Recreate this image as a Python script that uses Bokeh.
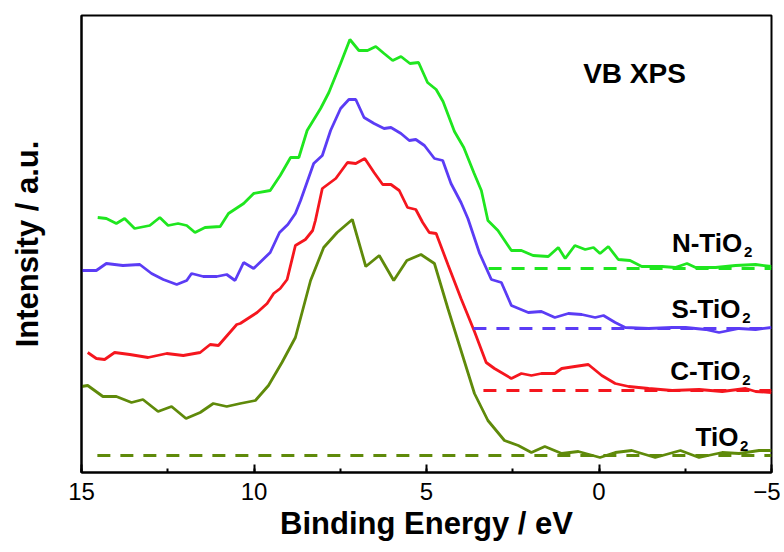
from bokeh.plotting import figure
from bokeh.models import Range1d, SingleIntervalTicker, FixedTicker, Label
from bokeh.embed import file_html
from bokeh.resources import INLINE

# ---- data (binding energy in eV, intensity in arbitrary units) ----
tio2_E = [15.0, 14.82, 14.38, 13.99, 13.55, 13.22, 12.78, 12.39, 11.97, 11.56, 11.18, 10.79,
          10.40, 9.96, 9.58, 9.19, 8.80, 8.36, 7.98, 7.59, 7.15, 6.76, 6.37, 5.95, 5.57, 5.16,
          4.77, 4.38, 4.00, 3.61, 3.22, 2.74, 2.34, 1.96, 1.57, 1.08, 0.60, -0.03, -0.47, -0.95,
          -1.63, -2.36, -2.90, -3.57, -4.06, -4.64, -5.0]
tio2_I = [84, 85, 74, 74, 68, 71, 59, 64, 52, 58, 67, 64,
          67, 70, 85, 108, 133, 190, 223, 238, 251, 204, 215, 190, 210, 216,
          207, 162, 120, 77, 50, 30, 25, 18, 24, 17, 19, 13, 18, 20,
          13, 20, 13, 18, 17, 20, 20]

c_E = [14.82, 14.57, 14.33, 14.04, 13.60, 13.07, 12.53, 12.05, 11.56, 11.27, 11.03, 10.50,
       10.40, 9.91, 9.62, 9.43, 9.24, 9.04, 8.80, 8.51, 8.30, 8.22, 8.02, 7.63, 7.29, 7.05,
       6.79, 6.52, 6.27, 6.03, 5.79, 5.55, 5.31, 5.11, 4.92, 4.72, 4.38, 4.00, 3.61, 3.27,
       3.03, 2.54, 2.25, 1.96, 1.67, 1.28, 1.08, 0.70, 0.31, -0.08, -0.47, -0.86, -1.44,
       -2.12, -2.90, -3.57, -4.25, -4.54, -5.0]
c_I = [118, 112, 111, 118, 116, 113, 117, 115, 118, 126, 125, 146,
       147, 158, 167, 177, 182, 191, 225, 231, 240, 250, 282, 292, 308, 307,
       312, 298, 286, 286, 280, 263, 261, 248, 238, 237, 206, 172, 139, 108,
       102, 92, 97, 95, 97, 97, 102, 104, 106, 95, 87, 84, 82,
       80, 81, 79, 82, 79, 78]

s_E = [15.0, 14.82, 14.57, 14.28, 13.80, 13.31, 12.97, 12.63, 12.24, 11.95, 11.81, 11.47,
       11.08, 10.79, 10.55, 10.30, 10.01, 9.53, 9.26, 9.02, 8.80, 8.65, 8.27, 8.02, 7.78,
       7.49, 7.25, 7.05, 6.81, 6.52, 6.23, 6.03, 5.74, 5.50, 5.31, 5.06, 4.77, 4.53, 4.29,
       4.00, 3.80, 3.46, 3.12, 2.83, 2.54, 2.05, 1.67, 1.28, 0.89, 0.50, 0.11, -0.13, -0.47,
       -0.76, -1.44, -2.12, -2.51, -3.09, -3.48, -4.06, -4.54, -5.0]
s_I = [200, 200, 200, 207, 205, 206, 197, 191, 186, 190, 197, 194,
       194, 196, 190, 208, 202, 218, 238, 246, 257, 270, 307, 315, 340,
       362, 371, 371, 353, 347, 342, 343, 337, 330, 331, 325, 312, 310, 287,
       268, 252, 217, 191, 188, 165, 158, 159, 153, 157, 156, 153, 155, 148,
       143, 142, 143, 143, 141, 138, 142, 141, 143]

n_E = [14.53, 14.28, 13.99, 13.75, 13.46, 13.02, 12.73, 12.49, 12.20, 11.95, 11.71, 11.42,
       10.98, 10.74, 10.30, 10.01, 9.53, 9.24, 8.94, 8.70, 8.46, 8.07, 7.83, 7.49, 7.22,
       6.96, 6.71, 6.47, 6.23, 5.98, 5.74, 5.48, 5.23, 4.97, 4.72, 4.52, 4.19, 3.92, 3.63,
       3.41, 3.22, 2.93, 2.54, 2.25, 1.91, 1.47, 1.18, 0.98, 0.70, 0.40, 0.16, -0.03, -0.27,
       -0.56, -0.90, -1.24, -1.83, -2.21, -2.55, -2.80, -3.38, -3.96, -4.54, -5.0]
n_I = [253, 252, 247, 252, 242, 245, 253, 245, 247, 245, 238, 243,
       244, 257, 267, 277, 280, 295, 313, 313, 340, 362, 378, 407, 431,
       420, 420, 424, 417, 410, 414, 407, 408, 388, 381, 369, 339, 323, 298,
       280, 250, 240, 220, 220, 215, 214, 223, 212, 225, 221, 223, 217, 224,
       211, 210, 204, 204, 203, 207, 203, 203, 205, 206, 204]

# dashed baselines: (start energy, level)
base_start = {"TiO2": 14.54, "C-TiO2": 3.35, "S-TiO2": 3.64, "N-TiO2": 3.20}
base_level = {"TiO2": 15, "C-TiO2": 80, "S-TiO2": 142, "N-TiO2": 202}
x_end = -5.0

colors = {"TiO2": "#5f8a0a", "C-TiO2": "#f5161e", "S-TiO2": "#5b3cf5", "N-TiO2": "#1fe61f"}
series = [("TiO2", tio2_E, tio2_I), ("C-TiO2", c_E, c_I),
          ("S-TiO2", s_E, s_I), ("N-TiO2", n_E, n_I)]

FONT = "Liberation Sans"

p = figure(width=780, height=548, x_range=Range1d(15, -5), y_range=Range1d(-2, 455),
           output_backend="svg", toolbar_location=None,
           min_border_left=81, min_border_right=9, min_border_top=15, min_border_bottom=76)
p.background_fill_color = "white"
p.border_fill_color = "white"
p.outline_line_color = "black"
p.outline_line_width = 2
p.xgrid.visible = False
p.ygrid.visible = False

for name, E, I in series:
    c = colors[name]
    p.line([base_start[name], x_end], [base_level[name], base_level[name]],
           line_color=c, line_width=2.8, line_dash="13 10")
    p.line(E, I, line_color=c, line_width=2.8)

# x axis
xa = p.xaxis[0]
xa.ticker = SingleIntervalTicker(interval=5, num_minor_ticks=2)
xa.axis_line_width = 2
xa.major_tick_line_width = 2
xa.minor_tick_line_width = 2
xa.major_tick_in = 8
xa.major_tick_out = 0
xa.minor_tick_in = 4
xa.minor_tick_out = 0
xa.major_label_standoff = 10
xa.major_label_text_font = FONT
xa.major_label_text_font_size = "24px"
xa.major_label_text_color = "black"
xa.axis_label = "Binding Energy / eV"
xa.axis_label_text_font = FONT
xa.axis_label_text_font_style = "bold"
xa.axis_label_text_font_size = "31px"
xa.axis_label_text_color = "black"
xa.axis_label_standoff = 3

# y axis
ya = p.yaxis[0]
ya.ticker = FixedTicker(ticks=[])
ya.axis_line_width = 2
ya.major_tick_in = 0
ya.major_tick_out = 0
ya.minor_tick_in = 0
ya.minor_tick_out = 0
ya.major_label_standoff = 0
ya.axis_label = "Intensity / a.u."
ya.axis_label_text_font = FONT
ya.axis_label_text_font_style = "bold"
ya.axis_label_text_font_size = "31px"
ya.axis_label_text_color = "black"
ya.axis_label_standoff = 37

# text annotations
p.add_layout(Label(x=-1.03, y=397, text="VB XPS", text_font=FONT, text_font_style="bold",
                   text_font_size="28px", text_align="center", text_baseline="alphabetic",
                   text_color="black"))

lab_names = ["N-TiO", "S-TiO", "C-TiO", "TiO"]
lab_x = [-4.15, -4.10, -4.10, -4.04]
lab_y = [228, 162, 100, 34]
for t, lx, ly in zip(lab_names, lab_x, lab_y):
    p.add_layout(Label(x=lx, y=ly, text=t, text_font=FONT, text_font_style="bold",
                       text_font_size="26px", text_align="right", text_baseline="alphabetic",
                       text_color="black"))
    p.add_layout(Label(x=lx - 0.05, y=ly - 9, text="2", text_font=FONT, text_font_style="bold",
                       text_font_size="15px", text_align="left", text_baseline="alphabetic",
                       text_color="black"))

open("out.html", "w").write(file_html(p, INLINE))
